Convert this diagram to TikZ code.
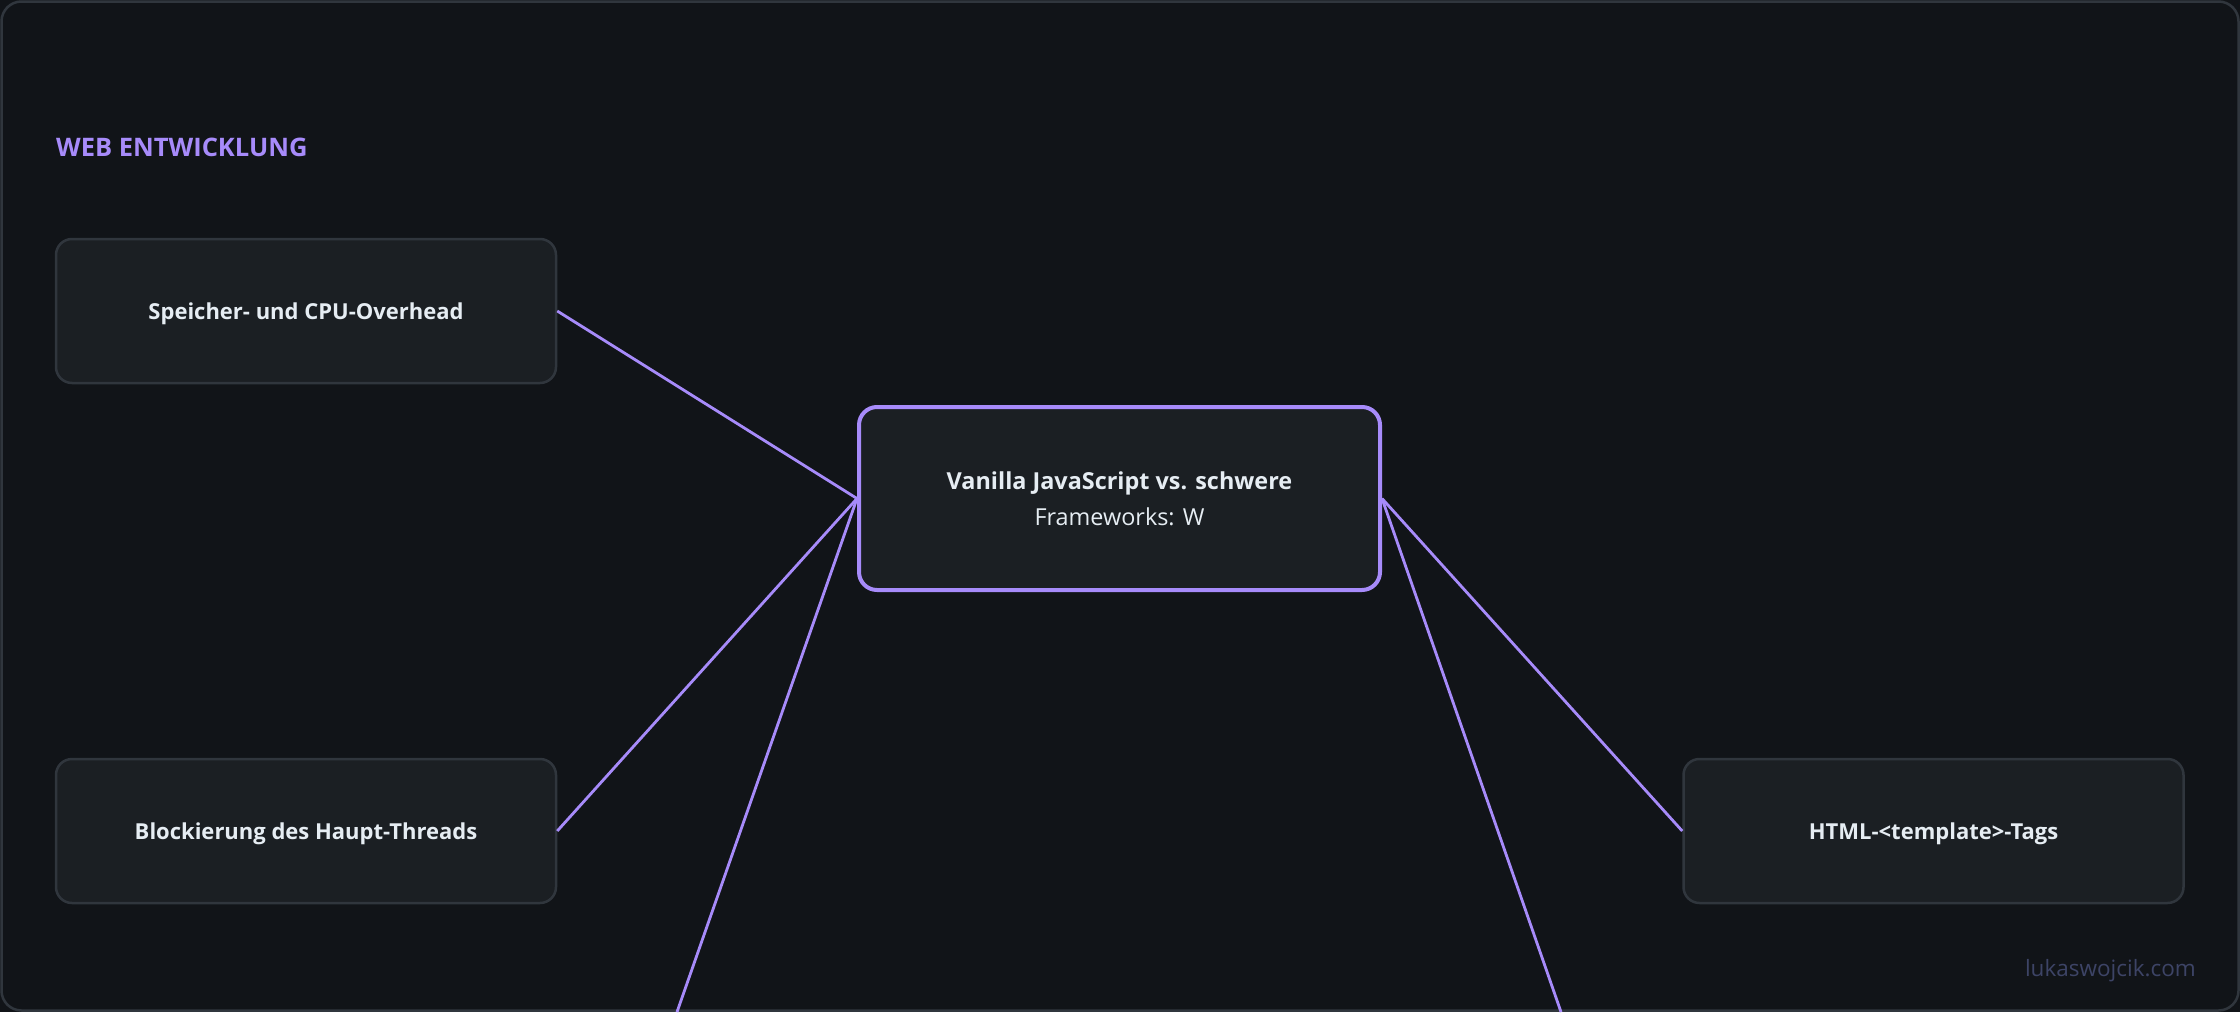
\documentclass[tikz,border=0pt]{standalone}
\usepackage{fontspec}
\setmainfont{Open Sans}
\definecolor{bgc}{HTML}{111418}
\definecolor{boxfill}{HTML}{1B1F23}
\definecolor{boxline}{HTML}{30363D}
\definecolor{accent}{HTML}{A78BFA}
\definecolor{txt}{HTML}{E6EDF3}
\definecolor{wmark}{HTML}{3D4466}
\tikzset{
  leafbox/.style={draw=boxline, fill=boxfill, line width=2.5pt, rounded corners=16pt,
    minimum width=500pt, minimum height=144pt, inner sep=0pt, text height=16pt, text depth=0pt,
    text=txt, font=\bfseries\fontsize{22}{30}\selectfont},
  centerbox/.style={draw=accent, fill=boxfill, line width=4pt, rounded corners=18pt,
    minimum width=521pt, minimum height=183pt, inner sep=0pt, align=center,
    text=txt, font=\fontsize{23.4}{36}\selectfont},
  conn/.style={draw=accent, line width=2.8pt},
  titletext/.style={text=accent, font=\bfseries\fontsize{25.5}{30}\selectfont, inner sep=0pt, anchor=west},
  marktext/.style={text=wmark, font=\fontsize{22.5}{26}\selectfont, inner sep=0pt, anchor=east}
}
\begin{document}
\begin{tikzpicture}[x=1pt,y=-1pt]
\useasboundingbox (0,0) rectangle (2240,1012);
\fill[bgc] (0,0) rectangle (2240,1012);
\draw[boxline, line width=2.5pt, rounded corners=20pt] (1.5,1.5) rectangle (2238.5,1010.5);
\node[titletext] (title) at (56,147) {WEB ENTWICKLUNG};
\coordinate (offA) at (677,1012);
\coordinate (offB) at (1561,1012);
\node[centerbox] (center) at (1119.5,498.5) {{\bfseries Vanilla JavaScript vs. schwere}\\Frameworks: W};
\node[leafbox] (n1) at (306,311) {Speicher- und CPU-Overhead};
\node[leafbox] (n2) at (306,831) {Blockierung des Haupt-Threads};
\node[leafbox] (n3) at (1933.5,831) {HTML-<template>-Tags};
\draw[conn] (n1.east) -- (center.west);
\draw[conn] (n2.east) -- (center.west);
\draw[conn] (center.west) -- (offA);
\draw[conn] (center.east) -- (n3.west);
\draw[conn] (center.east) -- (offB);
\node[marktext] (mark) at (2196,971) {lukaswojcik.com};
\end{tikzpicture}
\end{document}
